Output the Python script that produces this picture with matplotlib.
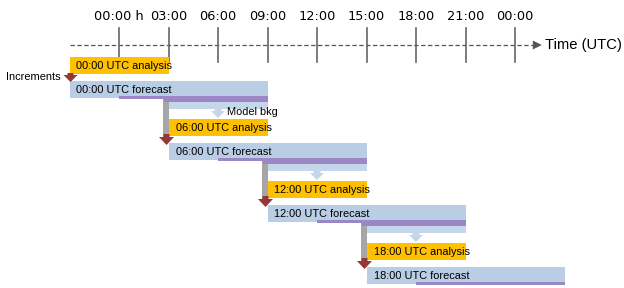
import matplotlib.pyplot as plt
from matplotlib.patches import Rectangle, Polygon

# time axis
tick_hours = [0, 3, 6, 9, 12, 15, 18, 21, 24]
tick_labels = ['00:00 h', '03:00', '06:00', '09:00', '12:00', '15:00', '18:00', '21:00', '00:00']

# assimilation cycles
cycle_hours = [0, 6, 12, 18]
cycle_names = ['00:00', '06:00', '12:00', '18:00']
window_half = 3    # analysis window is +/- 3 h
forecast_end = 9   # forecast runs to analysis time + 9 h

AN_COL = '#FFC000'
FC_COL = '#B9CDE5'
STRIP_COL = '#C5D6EB'
PU_COL = '#9B86C6'
RED = '#953735'
GRAY = '#A6A6A6'
AX_COL = '#555555'

hpx = 16.5   # pixels per hour
x0px = 119   # pixel position of 00:00


def px(p):
    return p / hpx


fig = plt.figure(figsize=(6.24, 2.88), dpi=100)
ax = fig.add_axes([0, 0, 1, 1])
ax.set_xlim(-x0px / hpx, (624 - x0px) / hpx)
ax.set_ylim(288, 0)
ax.axis('off')

arial = 'Liberation Sans'
box_fs = 7.9

# dashed time axis with arrow
x_end = 25.08
ax.plot([-3, x_end], [45, 45], ls=(0, (3.5, 2)), color=AX_COL, lw=0.9)
ax.add_patch(Polygon([[x_end, 40.5], [x_end, 49.5], [x_end + px(9), 45]],
                     closed=True, color=AX_COL, lw=0))
ax.text(x_end + px(12), 45.5, 'Time (UTC)', family=arial, fontsize=10.6,
        ha='left', va='center')

for h, lab in zip(tick_hours, tick_labels):
    ax.plot([h, h], [28, 62], color='#666666', lw=1.2)
    ax.text(h, 16.5, lab, fontsize=9.3, ha='center', va='center')


def down_arrow(c, top, head_top, tip, stem_w, head_w, color, z):
    pts = [[c - px(stem_w / 2), top], [c + px(stem_w / 2), top],
           [c + px(stem_w / 2), head_top], [c + px(head_w / 2), head_top],
           [c, tip], [c - px(head_w / 2), head_top],
           [c - px(stem_w / 2), head_top]]
    ax.add_patch(Polygon(pts, closed=True, color=color, lw=0, zorder=z))


row_step = 62
for k, (A, name) in enumerate(zip(cycle_hours, cycle_names)):
    ry = 57 + row_step * k
    start = A - window_half
    # analysis box
    ax.add_patch(Rectangle((start, ry), 2 * window_half, 17, color=AN_COL, lw=0, zorder=2))
    ax.text(start + px(7), ry + 9, name + ' UTC analysis', family=arial,
            fontsize=box_fs, ha='left', va='center', zorder=5)
    # forecast box
    ft = ry + 24
    ax.add_patch(Rectangle((start, ft), A + forecast_end - start, 17, color=FC_COL, lw=0, zorder=2))
    ax.text(start + px(7), ft + 9, name + ' UTC forecast', family=arial,
            fontsize=box_fs, ha='left', va='center', zorder=5)
    # purple bar
    ax.add_patch(Rectangle((A, ft + 15), forecast_end, 3, color=PU_COL, lw=0, zorder=3))

    # increments arrow into this forecast
    if k == 0:
        down_arrow(start + px(1), ry + 16, ft - 6, ft + 1, 6, 14, RED, 4)
    else:
        down_arrow(start - px(2), ft - 9, ft - 6, ft + 2, 6, 15, RED, 4)

    if k < len(cycle_hours) - 1:
        nxt = cycle_hours[k + 1]
        # background strip and model bkg arrow
        ax.add_patch(Rectangle((nxt - window_half - px(5), ft + 15), A + forecast_end - (nxt - window_half) + px(5),
                               6, color=PU_COL, lw=0, zorder=3))
        ax.add_patch(Rectangle((nxt - window_half, ft + 21), A + forecast_end - (nxt - window_half),
                               7, color=STRIP_COL, lw=0, zorder=1))
        down_arrow(nxt, ft + 27, ft + 30, ft + 37, 7, 14, STRIP_COL, 1)
        # gray connector down to next forecast
        ax.add_patch(Rectangle((nxt - window_half - px(5.5), ft + 17), px(5.5), 39,
                               color=GRAY, lw=0, zorder=1))

ax.text(cycle_hours[1] + px(9), 81 + 31, 'Model bkg', family=arial,
        fontsize=box_fs, ha='left', va='center')
ax.text(-3 - px(9), 77, 'Increments', family=arial, fontsize=box_fs,
        ha='right', va='center')

fig.savefig('out.png', dpi=100)
